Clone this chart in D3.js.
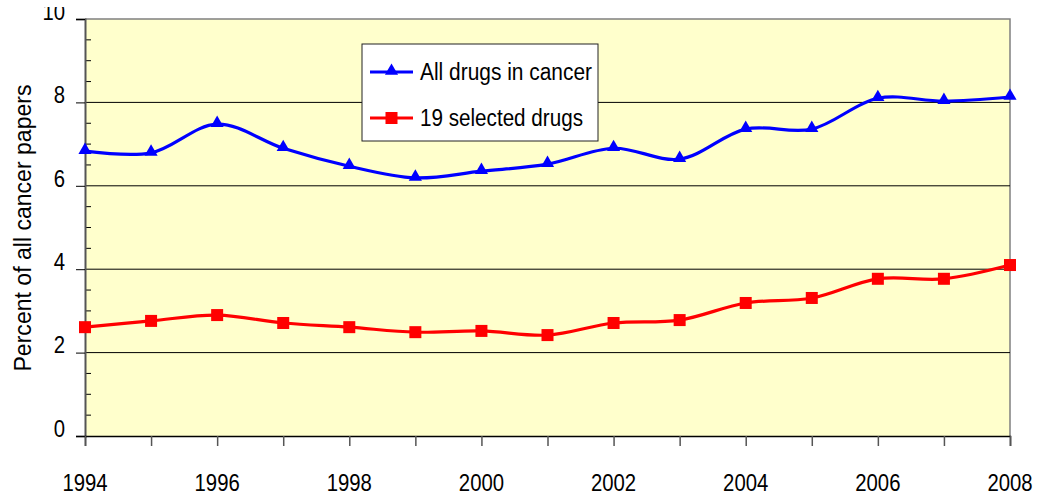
<!DOCTYPE html>
<html>
<head>
<meta charset="utf-8">
<script src="https://cdn.jsdelivr.net/npm/d3@7"></script>
<style>
  body { margin: 0; background: #fff; }
  text { font-family: "Liberation Sans", Arial, sans-serif; fill: #000; }
</style>
</head>
<body>
<div id="chart"></div>
<script>
// data
var years = [1994, 1995, 1996, 1997, 1998, 1999, 2000, 2001, 2002, 2003, 2004, 2005, 2006, 2007, 2008];
var allDrugs = [6.83, 6.79, 7.48, 6.9, 6.47, 6.19, 6.35, 6.52, 6.9, 6.64, 7.36, 7.36, 8.1, 8.03, 8.13];
var selected = [2.61, 2.76, 2.9, 2.71, 2.61, 2.49, 2.52, 2.42, 2.71, 2.78, 3.19, 3.31, 3.77, 3.77, 4.1];
var seriesNames = ["All drugs in cancer", "19 selected drugs"];
var yTicks = [0, 2, 4, 6, 8, 10];
var xLabels = [1994, 1996, 1998, 2000, 2002, 2004, 2006, 2008];

var W = 1041, H = 498;
var margin = {top: 19, right: 31, bottom: 62, left: 85},
    width = W - margin.left - margin.right,
    height = H - margin.top - margin.bottom;

// the original uses a narrow face, so squeeze text to that width
var digitW = 11.3;

var svg = d3.select("#chart").append("svg")
    .attr("width", W)
    .attr("height", H);

// top of the "10" label is cut off in the original
svg.append("clipPath").attr("id", "cut")
  .append("rect")
    .attr("x", -margin.left).attr("y", 7 - margin.top)
    .attr("width", W).attr("height", H);

var g = svg.append("g")
    .attr("transform", "translate(" + margin.left + "," + margin.top + ")");

var x = d3.scaleLinear().domain([1994, 2008]).range([0, width]);
var y = d3.scaleLinear().domain([0, 10]).range([height, 0]);

// plot background
g.append("rect")
  .attr("width", width)
  .attr("height", height)
  .style("fill", "#ffffcc");

// top and right border (grey)
g.append("path")
  .attr("d", "M0,0H" + width + "V" + height)
  .style("fill", "none")
  .style("stroke", "#808080")
  .style("stroke-width", 1.5);

// gridlines at major ticks
g.selectAll(".grid")
  .data(yTicks.filter(function(d) { return d > 0 && d < 10; }))
  .enter().append("line")
    .attr("x1", 0).attr("x2", width)
    .attr("y1", function(d) { return y(d); })
    .attr("y2", function(d) { return y(d); })
    .style("stroke", "#000")
    .style("stroke-width", 1);

// minor ticks inside, every 0.5
var minor = d3.range(0.5, 10, 0.5).filter(function(d) { return d % 2 !== 0; });
g.selectAll(".minor")
  .data(minor)
  .enter().append("line")
    .attr("x1", 0).attr("x2", 6)
    .attr("y1", function(d) { return y(d); })
    .attr("y2", function(d) { return y(d); })
    .style("stroke", "#000");

// y axis
var yAxis = g.append("g")
  .attr("clip-path", "url(#cut)")
  .call(d3.axisLeft(y).tickValues(yTicks).tickSize(9).tickFormat(d3.format("d")));
yAxis.attr("font-family", null).attr("font-size", null);
yAxis.select(".domain").style("stroke", "#555").style("stroke-width", 2);
yAxis.selectAll(".tick text")
  .attr("x", -20)
  .attr("y", -8.5)
  .attr("dy", "0.36em")
  .attr("textLength", function(d) { return String(d).length * digitW; })
  .attr("lengthAdjust", "spacingAndGlyphs")
  .style("font-size", "24.5px");

// x axis
var xAxis = g.append("g")
  .attr("transform", "translate(0," + height + ")")
  .call(d3.axisBottom(x).tickValues(years).tickSize(10).tickFormat(""));
xAxis.select(".domain").style("stroke", "#000").style("stroke-width", 1.5);
xAxis.selectAll(".tick line").style("stroke", "#555").style("stroke-width", 1.5);

g.append("g").selectAll("text")
  .data(xLabels)
  .enter().append("text")
    .attr("x", function(d) { return x(d); })
    .attr("y", height + 46)
    .attr("dy", "0.36em")
    .attr("text-anchor", "middle")
    .attr("textLength", function(d) { return String(d).length * digitW; })
    .attr("lengthAdjust", "spacingAndGlyphs")
    .style("font-size", "24.5px")
    .text(function(d) { return d; });

// y label
svg.append("text")
  .attr("transform", "translate(23,228) rotate(-90)")
  .attr("text-anchor", "middle")
  .attr("dy", "0.35em")
  .attr("textLength", 287)
  .attr("lengthAdjust", "spacingAndGlyphs")
  .style("font-size", "23px")
  .text("Percent of all cancer papers");

// lines
var line = d3.line()
  .x(function(d, i) { return x(years[i]); })
  .y(function(d) { return y(d); })
  .curve(d3.curveCatmullRom.alpha(0.5));

g.append("path")
  .datum(allDrugs)
  .attr("d", line)
  .style("fill", "none")
  .style("stroke", "#0000ff")
  .style("stroke-width", 3.2);

g.append("path")
  .datum(selected)
  .attr("d", line)
  .style("fill", "none")
  .style("stroke", "#ff0000")
  .style("stroke-width", 3.2);

var tri = d3.symbol().type(d3.symbolTriangle).size(75);
g.selectAll(".tri")
  .data(allDrugs)
  .enter().append("path")
    .attr("transform", function(d, i) { return "translate(" + x(years[i]) + "," + (y(d) - 1) + ")"; })
    .attr("d", tri)
    .style("fill", "#0000ff");

g.selectAll(".sq")
  .data(selected)
  .enter().append("rect")
    .attr("x", function(d, i) { return x(years[i]) - 6; })
    .attr("y", function(d) { return y(d) - 6; })
    .attr("width", 12)
    .attr("height", 12)
    .style("fill", "#ff0000");

// legend
var legend = svg.append("g").attr("transform", "translate(362,44)");
legend.append("rect")
  .attr("width", 236)
  .attr("height", 97)
  .style("fill", "#fff")
  .style("stroke", "#222")
  .style("stroke-width", 1);

var colors = ["#0000ff", "#ff0000"];
var textLens = [172, 163];
var items = legend.selectAll(".item")
  .data(seriesNames)
  .enter().append("g")
    .attr("transform", function(d, i) { return "translate(0," + (28 + i * 46) + ")"; });
items.append("line")
  .attr("x1", 8).attr("x2", 51)
  .style("stroke", function(d, i) { return colors[i]; })
  .style("stroke-width", 3.2);
items.filter(function(d, i) { return i === 0; })
  .append("path")
  .attr("transform", "translate(29.5,-1)")
  .attr("d", tri)
  .style("fill", "#0000ff");
items.filter(function(d, i) { return i === 1; })
  .append("rect")
  .attr("x", 23.5).attr("y", -6)
  .attr("width", 12).attr("height", 12)
  .style("fill", "#ff0000");
items.append("text")
  .attr("x", 58)
  .attr("dy", "0.36em")
  .attr("textLength", function(d, i) { return textLens[i]; })
  .attr("lengthAdjust", "spacingAndGlyphs")
  .style("font-size", "23px")
  .text(function(d) { return d; });
</script>
</body>
</html>
